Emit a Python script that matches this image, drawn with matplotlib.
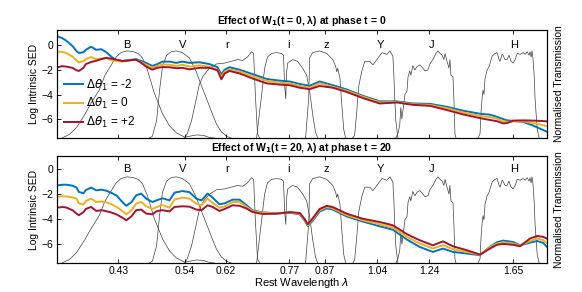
import matplotlib
matplotlib.use("Agg")
import matplotlib.pyplot as plt
from matplotlib.ticker import NullLocator

plt.rcParams['font.family'] = ['Liberation Sans', 'DejaVu Sans']

# rest wavelength (micron) and log intrinsic SED, phase t = 0
lam_top = [0.349, 0.355, 0.360, 0.368, 0.373, 0.376, 0.382, 0.385, 0.392, 0.399,
           0.406, 0.413, 0.421, 0.428, 0.436, 0.442, 0.450, 0.457, 0.465, 0.473,
           0.483, 0.491, 0.500, 0.512, 0.524, 0.535, 0.548, 0.567, 0.587, 0.603,
           0.611, 0.618, 0.628, 0.650, 0.679, 0.713, 0.745, 0.771, 0.798, 0.825,
           0.854, 0.893, 0.937, 0.989, 1.048, 1.111, 1.173, 1.243, 1.318, 1.392,
           1.475, 1.526, 1.563, 1.595, 1.617, 1.651, 1.708, 1.767, 1.810, 1.853]
top_m2 = [0.7, 0.55, 0.35, -0.1, -0.5, -0.65, -0.6, -0.4, -0.15, -0.4,
          -0.35, -0.6, -1.0, -1.25, -1.3, -1.25, -1.2, -1.15, -1.3, -1.45,
          -1.7, -1.55, -1.35, -1.35, -1.45, -1.35, -1.45, -1.4, -1.55, -1.8,
          -2.37, -2.0, -1.8, -2.0, -2.35, -2.75, -2.88, -2.95, -3.15, -3.3,
          -2.95, -3.25, -3.6, -4.1, -4.55, -4.55, -4.72, -4.75, -4.99, -5.3,
          -5.55, -5.62, -5.8, -5.97, -6.08, -6.12, -6.2, -6.5, -6.75, -7.0]
top_0 = [-0.56, -0.56, -0.65, -0.95, -1.25, -1.42, -1.3, -1.15, -0.98, -1.15,
         -1.1, -1.05, -1.25, -1.3, -1.35, -1.3, -1.25, -1.2, -1.4, -1.6,
         -1.85, -1.72, -1.57, -1.6, -1.7, -1.6, -1.75, -1.65, -1.75, -2.0,
         -2.57, -2.15, -1.98, -2.15, -2.52, -2.9, -3.05, -3.1, -3.3, -3.45,
         -3.1, -3.38, -3.7, -4.17, -4.63, -4.6, -4.78, -4.83, -5.1, -5.45,
         -5.72, -5.82, -5.95, -6.15, -6.2, -6.18, -6.15, -6.3, -6.42, -6.55]
top_p2 = [-1.82, -1.72, -1.75, -1.85, -2.05, -2.1, -1.85, -1.55, -1.38, -1.28,
          -1.15, -1.05, -1.12, -1.2, -1.3, -1.28, -1.22, -1.2, -1.45, -1.75,
          -2.0, -1.85, -1.79, -1.8, -1.88, -1.85, -1.97, -1.85, -1.85, -2.05,
          -2.77, -2.3, -2.1, -2.3, -2.7, -3.1, -3.2, -3.25, -3.45, -3.57,
          -3.31, -3.45, -3.8, -4.28, -4.72, -4.64, -4.83, -4.91, -5.25, -5.6,
          -5.9, -6.05, -6.15, -6.32, -6.3, -6.1, -6.08, -6.1, -6.12, -6.16]

# phase t = 20
lam_bot = [0.349, 0.355, 0.360, 0.368, 0.373, 0.376, 0.382, 0.385, 0.392, 0.399,
           0.406, 0.413, 0.421, 0.428, 0.436, 0.442, 0.450, 0.457, 0.465, 0.473,
           0.483, 0.491, 0.500, 0.512, 0.521, 0.535, 0.548, 0.561, 0.571, 0.583,
           0.593, 0.607, 0.618, 0.635, 0.650, 0.666, 0.679, 0.703, 0.737, 0.771,
           0.798, 0.812, 0.820, 0.834, 0.854, 0.875, 0.893, 0.937, 0.989, 1.048,
           1.096, 1.150, 1.201, 1.256, 1.300, 1.345, 1.411, 1.475, 1.526, 1.563,
           1.595, 1.651, 1.690, 1.749, 1.792, 1.829, 1.853]
bot_m2 = [-1.33, -1.28, -1.27, -1.35, -1.5, -1.85, -1.95, -1.7, -1.5, -1.72,
          -1.67, -1.75, -1.95, -2.15, -2.65, -2.95, -2.65, -2.12, -1.98, -2.38,
          -2.65, -2.5, -2.35, -2.52, -1.9, -1.78, -1.86, -2.38, -2.52, -1.98,
          -2.3, -2.83, -2.75, -2.46, -2.46, -2.91, -3.31, -3.47, -3.55, -3.5,
          -3.62, -4.15, -4.55, -4.15, -3.4, -3.15, -3.25, -3.8, -4.2, -4.58,
          -4.85, -5.64, -6.22, -6.62, -6.35, -6.62, -6.75, -6.88, -6.2, -5.85,
          -5.72, -5.83, -6.09, -5.88, -5.75, -5.9, -6.22]
bot_0 = [-2.25, -2.2, -2.2, -2.28, -2.38, -2.75, -2.85, -2.57, -2.38, -2.65,
         -2.6, -2.68, -2.85, -3.05, -3.36, -3.63, -3.3, -2.78, -2.65, -2.99,
         -3.2, -3.04, -2.9, -3.1, -2.45, -2.3, -2.38, -2.78, -2.91, -2.38,
         -2.72, -3.1, -3.0, -2.65, -2.65, -3.04, -3.36, -3.5, -3.55, -3.47,
         -3.58, -4.1, -4.5, -4.05, -3.3, -3.05, -3.15, -3.7, -4.1, -4.42,
         -4.68, -5.43, -5.95, -6.35, -6.08, -6.4, -6.62, -6.85, -6.25, -5.95,
         -5.85, -5.95, -6.12, -5.75, -5.55, -5.68, -5.92]
bot_p2 = [-3.1, -3.05, -3.08, -3.3, -3.57, -3.7, -3.45, -3.2, -3.04, -3.36,
          -3.3, -3.38, -3.5, -3.65, -3.89, -4.1, -3.78, -3.3, -3.25, -3.57,
          -3.63, -3.36, -3.3, -3.4, -3.04, -2.99, -3.02, -3.25, -3.3, -2.91,
          -3.04, -3.36, -3.2, -2.91, -2.95, -3.17, -3.44, -3.6, -3.58, -3.45,
          -3.52, -4.02, -4.42, -3.95, -3.2, -2.95, -3.05, -3.58, -3.98, -4.24,
          -4.5, -5.21, -5.69, -6.09, -5.78, -6.17, -6.49, -6.83, -6.35, -6.05,
          -5.98, -6.05, -6.17, -5.55, -5.35, -5.42, -5.56]

# filter transmission curves (normalised)
B_lam = [0.355, 0.364, 0.373, 0.383, 0.392, 0.403, 0.411, 0.417, 0.427, 0.434, 0.443,
         0.453, 0.460, 0.467, 0.475, 0.486, 0.500, 0.512, 0.524, 0.539, 0.548, 0.561,
         0.575, 0.587, 0.597]
B_tr = [0.0, 0.04, 0.12, 0.26, 0.4, 0.55, 0.72, 0.8, 0.93, 0.98, 1.0,
        0.99, 0.97, 0.92, 0.78, 0.52, 0.28, 0.14, 0.06, 0.01, 0.02, 0.035,
        0.03, 0.005, 0.0]
V_lam = [0.478, 0.483, 0.490, 0.495, 0.500, 0.507, 0.515, 0.524, 0.535, 0.548, 0.561,
         0.567, 0.581, 0.593, 0.601, 0.611, 0.622, 0.632]
V_tr = [0.0, 0.02, 0.2, 0.55, 0.82, 0.95, 0.99, 1.0, 0.98, 0.92, 0.76,
        0.66, 0.45, 0.27, 0.16, 0.07, 0.02, 0.0]
r_lam = [0.539, 0.544, 0.552, 0.561, 0.567, 0.575, 0.587, 0.601, 0.618, 0.632, 0.646,
         0.657, 0.668, 0.677, 0.682, 0.686, 0.691, 0.696]
r_tr = [0.0, 0.05, 0.2, 0.45, 0.62, 0.72, 0.8, 0.85, 0.86, 0.88, 0.9,
        0.89, 0.93, 0.99, 0.97, 0.5, 0.05, 0.0]
i_lam = [0.689, 0.696, 0.701, 0.708, 0.715, 0.725, 0.738, 0.750, 0.755, 0.758, 0.761,
         0.763, 0.766, 0.779, 0.792, 0.806, 0.817, 0.825, 0.834, 0.842, 0.848]
i_tr = [0.0, 0.3, 0.5, 0.8, 0.93, 0.97, 0.98, 0.97, 0.95, 0.6, 0.45,
        0.75, 0.86, 0.9, 0.88, 0.8, 0.72, 0.55, 0.27, 0.07, 0.0]
z_lam = [0.814, 0.8226, 0.8254, 0.834, 0.854, 0.875, 0.893, 0.902, 0.905, 0.908, 0.915,
         0.921, 0.927, 0.933]
z_tr = [0.0, 0.45, 0.92, 0.98, 1.0, 0.97, 0.9, 0.82, 0.76, 0.8, 0.69,
        0.38, 0.1, 0.0]
Y_lam = [0.956, 0.962, 0.969, 0.976, 0.986, 0.996, 1.013, 1.024, 1.038, 1.056, 1.074,
         1.085, 1.096, 1.100, 1.103, 1.107, 1.115]
Y_tr = [0.0, 0.03, 0.3, 0.6, 0.77, 0.88, 0.88, 0.84, 0.9, 0.98, 0.96,
        1.0, 0.94, 0.7, 0.45, 0.2, 0.0]
J_lam = [1.107, 1.115, 1.122, 1.126, 1.130, 1.134, 1.142, 1.150, 1.154, 1.161, 1.165,
         1.173, 1.181, 1.190, 1.202, 1.214, 1.222, 1.235, 1.243, 1.256, 1.269, 1.278,
         1.287, 1.296, 1.304, 1.309, 1.318, 1.327, 1.331, 1.336, 1.345, 1.350, 1.354,
         1.359]
J_tr = [0.0, 0.05, 0.15, 0.35, 0.22, 0.31, 0.5, 0.54, 0.7, 0.77, 0.72,
        0.83, 0.78, 0.82, 0.84, 0.8, 0.77, 0.78, 0.85, 0.9, 0.97, 1.0,
        0.97, 0.95, 0.9, 0.97, 0.88, 0.8, 0.9, 0.72, 0.7, 0.4, 0.05,
        0.0]
H_lam = [1.465, 1.475, 1.480, 1.485, 1.490, 1.495, 1.500, 1.511, 1.521, 1.537, 1.552,
         1.563, 1.574, 1.579, 1.590, 1.595, 1.606, 1.617, 1.628, 1.639, 1.651, 1.662,
         1.674, 1.691, 1.708, 1.720, 1.732, 1.743, 1.749, 1.755, 1.761, 1.767, 1.774,
         1.779, 1.792, 1.804]
H_tr = [0.0, 0.05, 0.3, 0.45, 0.55, 0.5, 0.68, 0.78, 0.82, 0.94, 0.97,
        0.98, 0.9, 0.88, 0.96, 0.95, 0.9, 0.9, 0.95, 0.88, 0.86, 0.9,
        0.97, 0.96, 0.98, 0.96, 0.99, 0.95, 0.99, 0.93, 1.0, 0.9, 0.7,
        0.45, 0.1, 0.0]

band_names = ['B', 'V', 'r', 'i', 'z', 'Y', 'J', 'H']
band_pos = [0.443, 0.535, 0.624, 0.768, 0.875, 1.052, 1.252, 1.655]
xticks = [0.43, 0.54, 0.62, 0.77, 0.87, 1.04, 1.24, 1.65]
labels = [r'$\Delta\theta_1$ = -2', r'$\Delta\theta_1$ = 0', r'$\Delta\theta_1$ = +2']
colors = ['#0072BD', '#EDB120', '#A2142F']

filt_lams = [B_lam, V_lam, r_lam, i_lam, z_lam, Y_lam, J_lam, H_lam]
filt_trs = [B_tr, V_tr, r_tr, i_tr, z_tr, Y_tr, J_tr, H_tr]


def draw_panel(ax, lam, seds, ylim, title, bottom):
    ax.set_xscale('log')
    tw = ax.twinx()
    for fl, ft in zip(filt_lams, filt_trs):
        tw.plot(fl, ft, color='0.25', lw=0.5)
    tw.set_ylim(0, 1.24)
    tw.set_yticks([])
    tw.set_ylabel('Normalised Transmission', fontsize=7.5, labelpad=5)
    ax.set_zorder(tw.get_zorder() + 1)
    ax.patch.set_visible(False)

    for vals, c, lab in zip(seds, colors, labels):
        ax.plot(lam, vals, color=c, lw=1.4, label=lab)

    for name, pos in zip(band_names, band_pos):
        ax.text(pos, 0, name, ha='center', va='center', fontsize=8)

    ax.set_xlim(0.349, 1.853)
    ax.set_ylim(*ylim)
    ax.set_yticks([-6, -4, -2, 0])
    ax.set_xticks(xticks)
    ax.xaxis.set_minor_locator(NullLocator())
    if bottom:
        ax.set_xticklabels(['%.2f' % v for v in xticks])
        ax.set_xlabel(r'Rest Wavelength $\lambda$', fontsize=8, labelpad=0)
    else:
        ax.set_xticklabels([])
    ax.tick_params(direction='in', top=True, length=3, width=0.6, labelsize=7.5, pad=2.5)
    ax.set_ylabel('Log Intrinsic SED', fontsize=7.5, labelpad=2)
    ax.set_title(title, fontsize=7.5, fontweight='bold', pad=4)
    for sp in ax.spines.values():
        sp.set_linewidth(0.8)


fig = plt.figure(figsize=(5.82, 2.92), dpi=100)
ax_top = fig.add_axes([0.0979, 0.5274, 0.842, 0.370])
ax_bot = fig.add_axes([0.0979, 0.0993, 0.842, 0.366])

draw_panel(ax_top, lam_top, [top_m2, top_0, top_p2], (-7.5, 1.2),
           r'Effect of W$_\mathbf{1}$(t = 0, λ) at phase t = 0', False)
draw_panel(ax_bot, lam_bot, [bot_m2, bot_0, bot_p2], (-7.5, 1.0),
           r'Effect of W$_\mathbf{1}$(t = 20, λ) at phase t = 20', True)

ax_top.legend(loc='lower left', bbox_to_anchor=(0.0, 0.01), frameon=False,
              fontsize=8.5, handlelength=1.6, handletextpad=0.3, labelspacing=0.3,
              borderaxespad=0.2)

fig.savefig('out.png', dpi=100)
